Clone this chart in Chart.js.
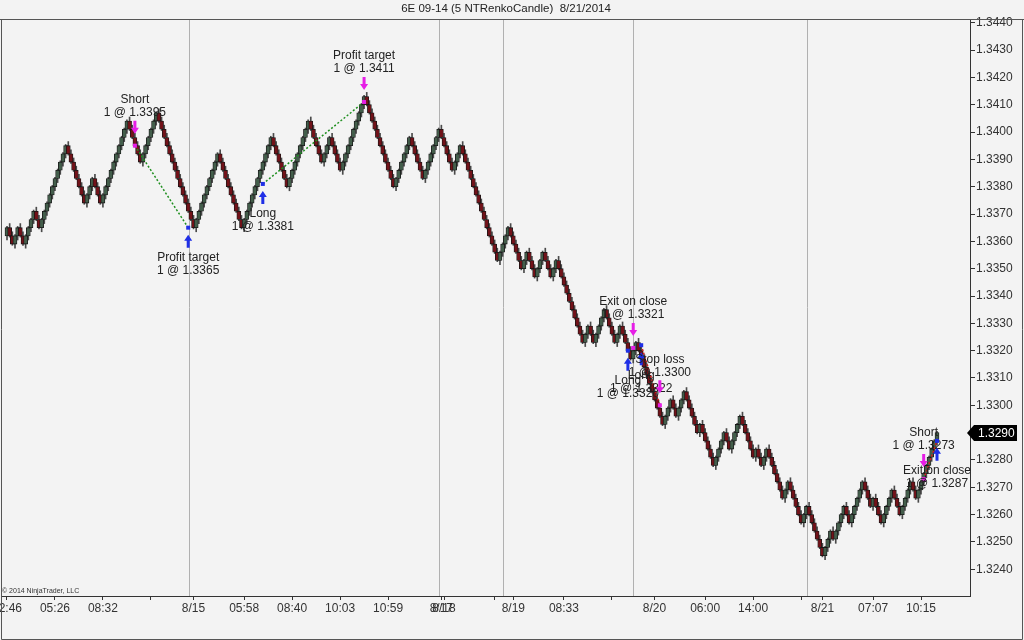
<!DOCTYPE html>
<html>
<head>
<meta charset="utf-8">
<script src="https://cdn.jsdelivr.net/npm/chart.js@4.4.1/dist/chart.umd.min.js"></script>
<style>
html, body { margin: 0; padding: 0; background: #f3f3f3; }
canvas { display: block; }
</style>
</head>
<body>
<canvas id="mycanvas" width="1024" height="640"></canvas>
<script>
// renko brick closes, one per bar (brick = 0.0003)
var closes = [
	1.3365,
	1.3362, 1.3359, 1.3362, 1.3365, 1.3362, 1.3359,
	1.3362, 1.3365, 1.3368, 1.3371, 1.3368, 1.3365,
	1.3368, 1.3371, 1.3374, 1.3377, 1.3380, 1.3383, 1.3386, 1.3389, 1.3392, 1.3395,
	1.3392, 1.3389, 1.3386, 1.3383, 1.3380, 1.3377, 1.3374,
	1.3377, 1.3380, 1.3383, 1.3380, 1.3377, 1.3374,
	1.3377, 1.3380, 1.3383, 1.3386, 1.3389, 1.3392, 1.3395, 1.3398, 1.3401, 1.3404,
	1.3401, 1.3398, 1.3395, 1.3392, 1.3389,
	1.3392, 1.3395, 1.3398, 1.3401, 1.3404, 1.3407,
	1.3404, 1.3401, 1.3398, 1.3395, 1.3392, 1.3389, 1.3386, 1.3383, 1.3380, 1.3377, 1.3374, 1.3371, 1.3368, 1.3365,
	1.3368, 1.3371, 1.3374, 1.3377, 1.3380, 1.3383, 1.3386, 1.3389, 1.3392,
	1.3389, 1.3386, 1.3383, 1.3380, 1.3377, 1.3374, 1.3371, 1.3368, 1.3365,
	1.3368, 1.3371, 1.3374, 1.3377, 1.3380, 1.3383, 1.3386, 1.3389, 1.3392, 1.3395, 1.3398,
	1.3395, 1.3392, 1.3389, 1.3386, 1.3383, 1.3380,
	1.3383, 1.3386, 1.3389, 1.3392, 1.3395, 1.3398, 1.3401, 1.3404,
	1.3401, 1.3398, 1.3395, 1.3392, 1.3389,
	1.3392, 1.3395, 1.3398,
	1.3395, 1.3392, 1.3389, 1.3386,
	1.3389, 1.3392, 1.3395, 1.3398, 1.3401, 1.3404, 1.3407, 1.3410, 1.3413,
	1.3410, 1.3407, 1.3404, 1.3401, 1.3398, 1.3395, 1.3392, 1.3389, 1.3386, 1.3383, 1.3380,
	1.3383, 1.3386, 1.3389, 1.3392, 1.3395, 1.3398,
	1.3395, 1.3392, 1.3389, 1.3386, 1.3383,
	1.3386, 1.3389, 1.3392, 1.3395, 1.3398, 1.3401,
	1.3398, 1.3395, 1.3392, 1.3389, 1.3386,
	1.3389, 1.3392, 1.3395,
	1.3392, 1.3389, 1.3386, 1.3383, 1.3380, 1.3377, 1.3374, 1.3371, 1.3368, 1.3365, 1.3362, 1.3359, 1.3356, 1.3353,
	1.3356, 1.3359, 1.3362, 1.3365,
	1.3362, 1.3359, 1.3356, 1.3353, 1.3350,
	1.3353, 1.3356,
	1.3353, 1.3350, 1.3347,
	1.3350, 1.3353, 1.3356,
	1.3353, 1.3350, 1.3347,
	1.3350, 1.3353,
	1.3350, 1.3347, 1.3344, 1.3341, 1.3338, 1.3335, 1.3332, 1.3329, 1.3326, 1.3323,
	1.3326, 1.3329, 1.3326, 1.3323,
	1.3326, 1.3329, 1.3332, 1.3335,
	1.3332, 1.3329, 1.3326, 1.3323,
	1.3326, 1.3329,
	1.3326, 1.3323, 1.3320, 1.3317,
	1.3320, 1.3323,
	1.3320, 1.3317, 1.3314, 1.3311, 1.3308, 1.3305, 1.3302, 1.3299, 1.3296, 1.3293,
	1.3296, 1.3299, 1.3302,
	1.3299, 1.3296,
	1.3299, 1.3302, 1.3305,
	1.3302, 1.3299, 1.3296, 1.3293, 1.3290,
	1.3293,
	1.3290, 1.3287, 1.3284, 1.3281, 1.3278,
	1.3281, 1.3284, 1.3287, 1.3290,
	1.3287, 1.3284,
	1.3287, 1.3290, 1.3293, 1.3296,
	1.3293, 1.3290, 1.3287, 1.3284, 1.3281,
	1.3284,
	1.3281, 1.3278,
	1.3281, 1.3284,
	1.3281, 1.3278, 1.3275, 1.3272, 1.3269, 1.3266,
	1.3269, 1.3272,
	1.3269, 1.3266, 1.3263, 1.3260, 1.3257,
	1.3260, 1.3263,
	1.3260, 1.3257, 1.3254, 1.3251, 1.3248, 1.3245,
	1.3248, 1.3251, 1.3254,
	1.3251,
	1.3254, 1.3257, 1.3260, 1.3263,
	1.3260, 1.3257,
	1.3260, 1.3263, 1.3266, 1.3269, 1.3272,
	1.3269, 1.3266, 1.3263,
	1.3266,
	1.3263, 1.3260, 1.3257,
	1.3260, 1.3263, 1.3266, 1.3269,
	1.3266, 1.3263, 1.3260,
	1.3263, 1.3266, 1.3269, 1.3272,
	1.3269, 1.3266,
	1.3269, 1.3272, 1.3275, 1.3278, 1.3281, 1.3284, 1.3287, 1.3290
];
var firstOpen = 1.3362;
var lastPrice = 1.3290;

var priceTicks = [1.3240, 1.3250, 1.3260, 1.3270, 1.3280, 1.3290, 1.3300, 1.3310, 1.3320, 1.3330,
	1.3340, 1.3350, 1.3360, 1.3370, 1.3380, 1.3390, 1.3400, 1.3410, 1.3420, 1.3430, 1.3440];

var timeTickBars = [0, 18, 36, 54, 70, 89, 107, 125, 143, 163, 164, 183, 190, 209, 227, 243, 262, 280, 298, 306, 325, 343];
var timeTickText = ['12:46', '05:26', '08:32', '', '8/15', '05:58', '08:40', '10:03', '10:59', '8/17', '8/18', '', '8/19', '08:33', '', '8/20', '06:00', '14:00', '', '8/21', '07:07', '10:15'];

var sessionBars = [68.3, 162.1, 186.1, 234.9, 300.2];

// executions
var tradeBars   = [48, 68, 96, 134, 235, 233, 238, 245, 344, 349];
var tradePrices = [1.3395, 1.3365, 1.3381, 1.3411, 1.3321, 1.3320, 1.3322, 1.3300, 1.3273, 1.3287];
var tradeSides  = ['sell', 'buy', 'buy', 'sell', 'sell', 'buy', 'buy', 'sell', 'sell', 'buy'];
var tradeNames  = ['Short', 'Profit target', 'Long', 'Profit target', 'Exit on close', 'Long', 'Long', 'Stop loss', 'Short', 'Exit on close'];
var tradePairs  = [[0, 1], [2, 3], [5, 4], [6, 7], [8, 9]];
var pairWin     = [true, true, true, false, false];

var upColor = '#435e4b';
var downColor = '#721219';
var brick = 0.0003;

var bodies = [], wicks = [], colors = [];
for (var i = 0; i < closes.length; i++) {
	var o = i == 0 ? firstOpen : closes[i - 1];
	var c = closes[i];
	var lo = Math.min(o, c), hi = Math.max(o, c);
	bodies.push({x: i, y: [o, c]});
	if (c > o) {
		wicks.push({x: i, y: [lo - brick * 0.5, hi + brick * 0.15]});
	} else {
		wicks.push({x: i, y: [lo - brick * 0.15, hi + brick * 0.5]});
	}
	colors.push(c > o ? upColor : downColor);
}

var font = '"Liberation Sans", Arial, sans-serif';

function drawArrow(g, x, tipY, down, color) {
	var s = down ? -1 : 1;
	g.fillStyle = color;
	g.beginPath();
	g.moveTo(x, tipY);
	g.lineTo(x + 4, tipY + s * 6);
	g.lineTo(x + 1.5, tipY + s * 6);
	g.lineTo(x + 1.5, tipY + s * 13);
	g.lineTo(x - 1.5, tipY + s * 13);
	g.lineTo(x - 1.5, tipY + s * 6);
	g.lineTo(x - 4, tipY + s * 6);
	g.closePath();
	g.fill();
}

var chartDecor = {
	id: 'chartDecor',
	beforeDraw: function(chart) {
		var g = chart.ctx;
		g.save();
		g.fillStyle = '#f3f3f3';
		g.fillRect(0, 0, chart.width, chart.height);
		g.fillStyle = '#222';
		g.font = '11.5px ' + font;
		g.textAlign = 'center';
		g.textBaseline = 'middle';
		g.fillText('6E 09-14 (5 NTRenkoCandle)  8/21/2014', 506, 9);
		g.restore();
	},
	beforeDatasetsDraw: function(chart) {
		var g = chart.ctx, a = chart.chartArea, xs = chart.scales.x;
		g.save();
		g.strokeStyle = '#b0b0b0';
		g.lineWidth = 1;
		sessionBars.forEach(function(b) {
			var x = Math.round(xs.getPixelForValue(b)) + 0.5;
			g.beginPath();
			g.moveTo(x, a.top);
			g.lineTo(x, a.bottom);
			g.stroke();
		});
		g.fillStyle = '#333';
		g.font = '7px ' + font;
		g.textAlign = 'left';
		g.textBaseline = 'bottom';
		g.fillText('\u00a9 2014 NinjaTrader, LLC', 2, a.bottom - 1);
		g.restore();
	},
	afterDatasetsDraw: function(chart) {
		var g = chart.ctx, xs = chart.scales.x, ys = chart.scales.y;
		g.save();
		// connecting lines
		g.setLineDash([2, 2]);
		g.lineWidth = 1.5;
		tradePairs.forEach(function(p, k) {
			g.strokeStyle = pairWin[k] ? '#1f8f1f' : '#d02020';
			g.beginPath();
			g.moveTo(xs.getPixelForValue(tradeBars[p[0]]), ys.getPixelForValue(tradePrices[p[0]]));
			g.lineTo(xs.getPixelForValue(tradeBars[p[1]]), ys.getPixelForValue(tradePrices[p[1]]));
			g.stroke();
		});
		g.setLineDash([]);
		g.font = '12px ' + font;
		g.textAlign = 'center';
		g.textBaseline = 'middle';
		for (var t = 0; t < tradeBars.length; t++) {
			var x = xs.getPixelForValue(tradeBars[t]);
			var y = ys.getPixelForValue(tradePrices[t]);
			var sell = tradeSides[t] == 'sell';
			var col = sell ? '#e61ee6' : '#1f2fe6';
			g.fillStyle = col;
			g.fillRect(x - 2, y - 2, 4, 4);
			if (sell) {
				drawArrow(g, x, y - 12, true, col);
			} else {
				drawArrow(g, x, y + 7, false, col);
			}
			g.fillStyle = '#222';
			if (sell) {
				g.fillText(tradeNames[t], x, y - 46);
				g.fillText('1 @ ' + tradePrices[t].toFixed(4), x, y - 33);
			} else {
				g.fillText(tradeNames[t], x, y + 30);
				g.fillText('1 @ ' + tradePrices[t].toFixed(4), x, y + 43);
			}
		}
		g.restore();
	},
	afterDraw: function(chart) {
		var g = chart.ctx, a = chart.chartArea, ys = chart.scales.y;
		g.save();
		g.strokeStyle = '#555';
		g.lineWidth = 1;
		g.beginPath();
		g.moveTo(0, 19.5); g.lineTo(chart.width, 19.5);
		g.moveTo(1.5, 19.5); g.lineTo(1.5, 639.5);
		g.moveTo(1.5, 639.5); g.lineTo(1022.5, 639.5);
		g.moveTo(1022.5, 19.5); g.lineTo(1022.5, 639.5);
		g.stroke();
		// last price tag
		var y = Math.round(ys.getPixelForValue(lastPrice));
		var x0 = a.right - 3;
		g.fillStyle = '#000';
		g.beginPath();
		g.moveTo(x0, y);
		g.lineTo(x0 + 7, y - 8);
		g.lineTo(1017, y - 8);
		g.lineTo(1017, y + 8);
		g.lineTo(x0 + 7, y + 8);
		g.closePath();
		g.fill();
		g.fillStyle = '#fff';
		g.font = '12px ' + font;
		g.textAlign = 'left';
		g.textBaseline = 'middle';
		g.fillText(lastPrice.toFixed(4), x0 + 11, y + 1);
		g.restore();
	}
};

var n = closes.length;
var step = 930 / (n - 1);
var xMin = -6 / step;
var xMax = xMin + 969 / step;
var yMax = 1.3440 + 3.7 / 27330;
var yMin = yMax - 577 / 27330;

var ctx = document.getElementById('mycanvas');
var renko = new Chart(ctx, {
	type: 'bar',
	data: {
		datasets: [
			{
				data: bodies,
				backgroundColor: colors,
				borderColor: '#161616',
				borderWidth: 0.8,
				borderSkipped: false,
				barThickness: 4,
				grouped: false,
				order: 0
			},
			{
				data: wicks,
				backgroundColor: '#4a4a4a',
				borderWidth: 0,
				barThickness: 1,
				grouped: false,
				order: 1
			}
		]
	},
	options: {
		responsive: false,
		animation: false,
		devicePixelRatio: 1,
		layout: { padding: { left: 1, top: 19, right: 2, bottom: 1 } },
		plugins: { legend: { display: false }, tooltip: { enabled: false } },
		scales: {
			x: {
				type: 'linear',
				offset: false,
				min: xMin,
				max: xMax,
				grid: { drawOnChartArea: false, offset: false, tickLength: 4, color: '#333' },
				border: { color: '#333' },
				ticks: {
					autoSkip: false,
					maxRotation: 0,
					padding: 1,
					color: '#333',
					font: { size: 12, family: font },
					callback: function(v) {
						var k = timeTickBars.indexOf(v);
						return k < 0 ? '' : timeTickText[k];
					}
				},
				afterBuildTicks: function(s) {
					s.ticks = timeTickBars.map(function(v) { return {value: v}; });
				},
				afterFit: function(s) {
					s.height = 43;
					s.paddingLeft = 0;
					s.paddingRight = 0;
				}
			},
			y: {
				position: 'right',
				min: yMin,
				max: yMax,
				grid: { drawOnChartArea: false, tickLength: 5, color: '#333' },
				border: { color: '#333' },
				ticks: {
					padding: 1,
					color: '#333',
					font: { size: 12, family: font },
					callback: function(v) { return v.toFixed(4); }
				},
				afterBuildTicks: function(s) {
					s.ticks = priceTicks.map(function(v) { return {value: v}; });
				},
				afterFit: function(s) {
					s.width = 52;
					s.paddingTop = 0;
					s.paddingBottom = 0;
				}
			}
		}
	},
	plugins: [chartDecor]
});
</script>
</body>
</html>
